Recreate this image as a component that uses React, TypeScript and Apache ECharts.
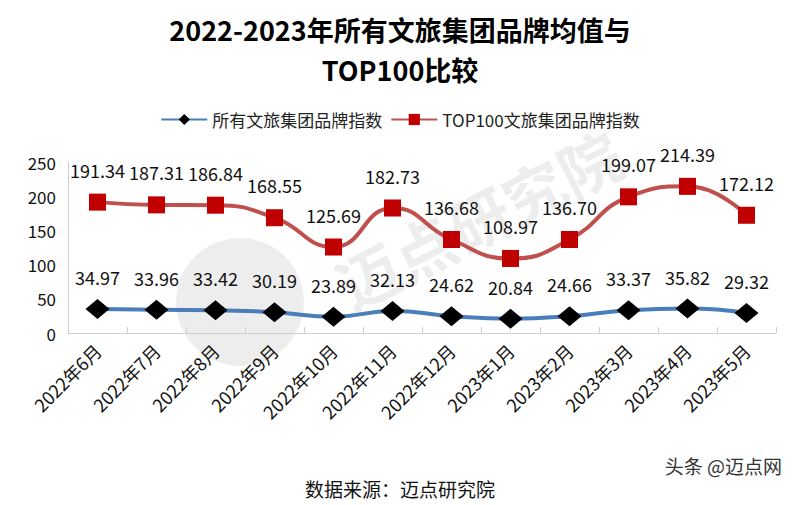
import React, { useEffect, useRef } from "react";
import * as echarts from "echarts";

const categories = [
  "2022年6月", "2022年7月", "2022年8月", "2022年9月", "2022年10月", "2022年11月",
  "2022年12月", "2023年1月", "2023年2月", "2023年3月", "2023年4月", "2023年5月",
];
const allGroups = [34.97, 33.96, 33.42, 30.19, 23.89, 32.13, 24.62, 20.84, 24.66, 33.37, 35.82, 29.32];
const top100 = [191.34, 187.31, 186.84, 168.55, 125.69, 182.73, 136.68, 108.97, 136.70, 199.07, 214.39, 172.12];
const seriesNames = ["所有文旅集团品牌指数", "TOP100文旅集团品牌指数"];
const titleLines = ["2022-2023年所有文旅集团品牌均值与", "TOP100比较"];

const FONT = "'Noto Sans CJK SC', 'Noto Sans', sans-serif";

export default function App() {
  const ref = useRef<HTMLDivElement>(null);
  useEffect(() => {
    if (!ref.current) return;
    const chart = echarts.init(ref.current, null, { renderer: "svg" });
    const titleStyle = { fontSize: 27, fontWeight: "bold", color: "#000", fontFamily: FONT };
    chart.setOption({
      animation: false,
      backgroundColor: "#ffffff",
      textStyle: { fontFamily: FONT },
      title: [
        { text: titleLines[0], left: "center", top: 16, padding: 0, textStyle: titleStyle },
        { text: titleLines[1], left: "center", top: 56, padding: 0, textStyle: titleStyle },
      ],
      legend: {
        top: 106,
        left: "center",
        itemWidth: 46,
        itemHeight: 14,
        itemGap: 8,
        textStyle: { fontSize: 17, color: "#222", fontFamily: FONT },
        data: seriesNames,
      },
      graphic: [
        {
          type: "circle",
          shape: { cx: 240, cy: 302, r: 64 },
          style: { fill: "rgba(0,0,0,0.07)" },
          silent: true,
          z: -1,
        },
        {
          type: "text",
          x: 478,
          y: 218,
          rotation: 0.47,
          style: {
            text: "迈点研究院",
            fontSize: 62,
            fontWeight: "bold",
            fill: "rgba(0,0,0,0.07)",
            fontFamily: FONT,
            align: "center",
            verticalAlign: "middle",
          },
          silent: true,
          z: -1,
        },
        {
          type: "text",
          left: "center",
          top: 479,
          style: { text: "数据来源：迈点研究院", fontSize: 19, fill: "#111", fontFamily: FONT },
        },
        {
          type: "text",
          right: 18,
          top: 456,
          style: { text: "头条 @迈点网", fontSize: 19, fill: "#333", fontFamily: FONT },
        },
      ],
      grid: { left: 68, right: 24, top: 162, bottom: 172, containLabel: false },
      xAxis: {
        type: "category",
        data: categories,
        boundaryGap: true,
        axisLine: { lineStyle: { color: "#d0d0d0", width: 1 } },
        axisTick: { show: true, inside: true, length: 6, lineStyle: { color: "#d0d0d0" } },
        axisLabel: { rotate: 45, fontSize: 18, color: "#111", margin: 14, interval: 0, fontFamily: FONT },
      },
      yAxis: {
        type: "value",
        min: 0,
        max: 250,
        interval: 50,
        axisLine: { show: true, lineStyle: { color: "#d0d0d0" } },
        axisTick: { show: false },
        splitLine: { show: false },
        axisLabel: { fontSize: 17, color: "#111", margin: 12, fontFamily: FONT },
      },
      series: [
        {
          name: seriesNames[0],
          type: "line",
          smooth: true,
          data: allGroups,
          symbol: "diamond",
          symbolSize: [24, 20],
          lineStyle: { color: "#4a7ebb", width: 4 },
          itemStyle: { color: "#000000" },
          color: "#4a7ebb",
          label: {
            show: true,
            position: "top",
            distance: 13,
            fontSize: 18,
            color: "#111",
            fontFamily: FONT,
            formatter: (p: any) => p.value.toFixed(2),
          },
          z: 3,
        },
        {
          name: seriesNames[1],
          type: "line",
          smooth: true,
          data: top100,
          symbol: "rect",
          symbolSize: 17,
          lineStyle: { color: "#c0504d", width: 4 },
          itemStyle: { color: "#c00000" },
          color: "#c0504d",
          label: {
            show: true,
            position: "top",
            distance: 15,
            fontSize: 18,
            color: "#111",
            fontFamily: FONT,
            formatter: (p: any) => p.value.toFixed(2),
          },
          z: 3,
        },
      ],
    });
    return () => chart.dispose();
  }, []);
  return <div ref={ref} style={{ width: 800, height: 505, position: "fixed", left: 0, top: 0 }} />;
}
